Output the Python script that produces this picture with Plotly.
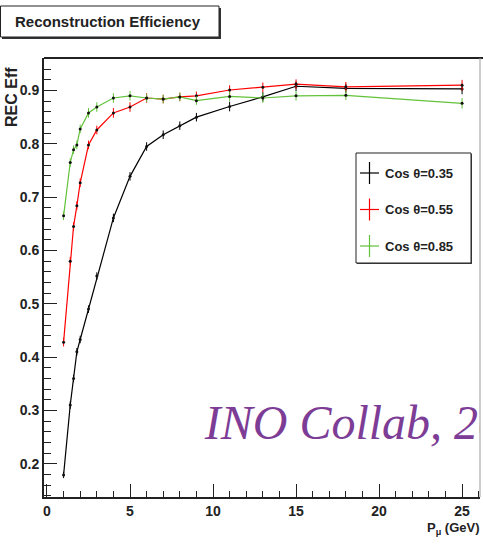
import plotly.graph_objects as go

# ---------------- data ----------------
p_mu = [1, 1.4, 1.6, 1.8, 2, 2.5, 3, 4, 5, 6, 7, 8, 9, 11, 13, 15, 18, 25]
eff_035 = [0.179, 0.310, 0.360, 0.410, 0.433, 0.490, 0.552, 0.661, 0.739, 0.795,
           0.817, 0.834, 0.850, 0.870, 0.888, 0.908, 0.904, 0.903]
eff_055 = [0.428, 0.580, 0.645, 0.684, 0.727, 0.798, 0.826, 0.858, 0.869, 0.886,
           0.884, 0.888, 0.890, 0.901, 0.906, 0.912, 0.907, 0.910]
eff_085 = [0.665, 0.765, 0.789, 0.798, 0.828, 0.858, 0.869, 0.886, 0.890, 0.886,
           0.884, 0.888, 0.881, 0.889, 0.886, 0.890, 0.891, 0.876]
err_035 = [0.006, 0.007, 0.007, 0.007, 0.007, 0.007, 0.007, 0.008, 0.008, 0.008,
           0.008, 0.008, 0.008, 0.009, 0.009, 0.009, 0.009, 0.010]
err_055 = [0.008, 0.008, 0.008, 0.008, 0.008, 0.008, 0.008, 0.009, 0.009, 0.009,
           0.008, 0.008, 0.008, 0.009, 0.009, 0.009, 0.009, 0.010]
err_085 = [0.008, 0.008, 0.008, 0.008, 0.008, 0.009, 0.009, 0.009, 0.009, 0.008,
           0.008, 0.008, 0.008, 0.009, 0.009, 0.009, 0.009, 0.010]
series_names = ["Cos \u03b8=0.35", "Cos \u03b8=0.55", "Cos \u03b8=0.85"]
series_colors = ["#000000", "#ff0000", "#62c23a"]
x_ticks = [0, 5, 10, 15, 20, 25]
y_ticks = [0.2, 0.3, 0.4, 0.5, 0.6, 0.7, 0.8, 0.9]

W, H = 483, 547
L, R, T, B = 44, 480, 58, 497  # plot area in px

def px(x):
    return (x - L) / (R - L)

def py(y):
    return (B - y) / (B - T)

SANS = "Liberation Sans, Arial, Helvetica, sans-serif"

fig = go.Figure()
for ys, es, name, col in zip([eff_035, eff_055, eff_085], [err_035, err_055, err_085],
                             series_names, series_colors):
    fig.add_trace(go.Scatter(
        x=p_mu, y=ys, name=name, mode="lines+markers",
        line=dict(color=col, width=1.2),
        marker=dict(color="#111111", size=3),
        error_y=dict(type="data", array=es, color=col, thickness=1, width=0),
        showlegend=False,
    ))

# watermark as clipped text trace
fig.add_trace(go.Scatter(
    x=[9.5], y=[0.268], mode="text", text=["INO Collab, 2014"],
    textposition="middle right", cliponaxis=True, showlegend=False,
    textfont=dict(family="Liberation Serif, Times New Roman, serif", size=48,
                  color="#7d3d96", style="italic"),
    hoverinfo="skip",
))

fig.update_layout(
    width=W, height=H,
    margin=dict(l=L, r=W - R, t=T, b=H - B),
    paper_bgcolor="white", plot_bgcolor="white",
    showlegend=False,
    xaxis=dict(range=[-0.18, 26.08], tickvals=x_ticks, ticktext=[str(v) for v in x_ticks],
               ticks="inside", ticklen=13, tickwidth=1, tickcolor="#222",
               minor=dict(ticks="inside", ticklen=6, dtick=1, tick0=0, tickcolor="#222", tickwidth=1),
               showline=True, linecolor="#222", linewidth=2, mirror=False,
               showgrid=False, zeroline=False,
               tickfont=dict(family=SANS, size=14, color="#222", weight="bold")),
    yaxis=dict(range=[0.1376, 0.961], tickvals=y_ticks, ticktext=[f"{v:.1f}" for v in y_ticks],
               ticks="inside", ticklen=13, tickwidth=1, tickcolor="#222",
               minor=dict(ticks="inside", ticklen=7, dtick=0.02, tick0=0, tickcolor="#222", tickwidth=1),
               showline=True, linecolor="#222", linewidth=2, mirror=False,
               showgrid=False, zeroline=False,
               tickfont=dict(family=SANS, size=14, color="#222", weight="bold")),
)

shapes = []
# top frame line and right gray line
shapes.append(dict(type="line", xref="paper", yref="paper", x0=px(L), x1=px(W), y0=py(T), y1=py(T),
                   line=dict(color="#222", width=2)))
shapes.append(dict(type="line", xref="paper", yref="paper", x0=px(R), x1=px(R), y0=py(T), y1=py(B),
                   line=dict(color="#999", width=1)))
# title box with shadow
shapes.append(dict(type="rect", xref="paper", yref="paper", x0=px(2), x1=px(221), y0=py(39), y1=py(8),
                   line=dict(width=0), fillcolor="#333"))
shapes.append(dict(type="rect", xref="paper", yref="paper", x0=px(0.5), x1=px(219), y0=py(37), y1=py(6),
                   line=dict(color="#222", width=1), fillcolor="white"))
# legend box
lx0, lx1, ly0, ly1 = 356, 471, 153, 263
shapes.append(dict(type="rect", xref="paper", yref="paper", x0=px(lx0 + 1), x1=px(lx1 + 1),
                   y0=py(ly1 + 1), y1=py(ly0 + 1), line=dict(width=0), fillcolor="#444"))
shapes.append(dict(type="rect", xref="paper", yref="paper", x0=px(lx0), x1=px(lx1),
                   y0=py(ly1), y1=py(ly0), line=dict(color="#222", width=1), fillcolor="white"))
annotations = []
for i, (name, col) in enumerate(zip(series_names, series_colors)):
    yc = 173 + i * 36.5
    shapes.append(dict(type="line", xref="paper", yref="paper", x0=px(360), x1=px(379), y0=py(yc), y1=py(yc),
                       line=dict(color=col, width=1.2)))
    shapes.append(dict(type="line", xref="paper", yref="paper", x0=px(369.5), x1=px(369.5),
                       y0=py(yc - 11), y1=py(yc + 11), line=dict(color=col, width=1.2)))
    annotations.append(dict(xref="paper", yref="paper", x=px(383), y=py(yc), xanchor="left", yanchor="middle",
                            text=name, showarrow=False,
                            font=dict(family=SANS, size=13, color="#222", weight="bold")))

annotations.append(dict(xref="paper", yref="paper", x=px(108), y=py(21.5), xanchor="center", yanchor="middle",
                        text="Reconstruction Efficiency", showarrow=False,
                        font=dict(family=SANS, size=15, color="#222", weight="bold")))
annotations.append(dict(xref="paper", yref="paper", x=px(11), y=py(97), xanchor="center", yanchor="middle",
                        text="REC Eff", textangle=-90, showarrow=False,
                        font=dict(family=SANS, size=16, color="#222", weight="bold")))
annotations.append(dict(xref="paper", yref="paper", x=px(482), y=py(528), xanchor="right", yanchor="middle",
                        text="P<sub>\u03bc</sub> (GeV)", showarrow=False,
                        font=dict(family=SANS, size=13, color="#222", weight="bold")))

fig.update_layout(shapes=shapes, annotations=annotations)
fig.write_html("out.html", config={"displayModeBar": False},
               post_script="document.body.style.margin='0px';")
